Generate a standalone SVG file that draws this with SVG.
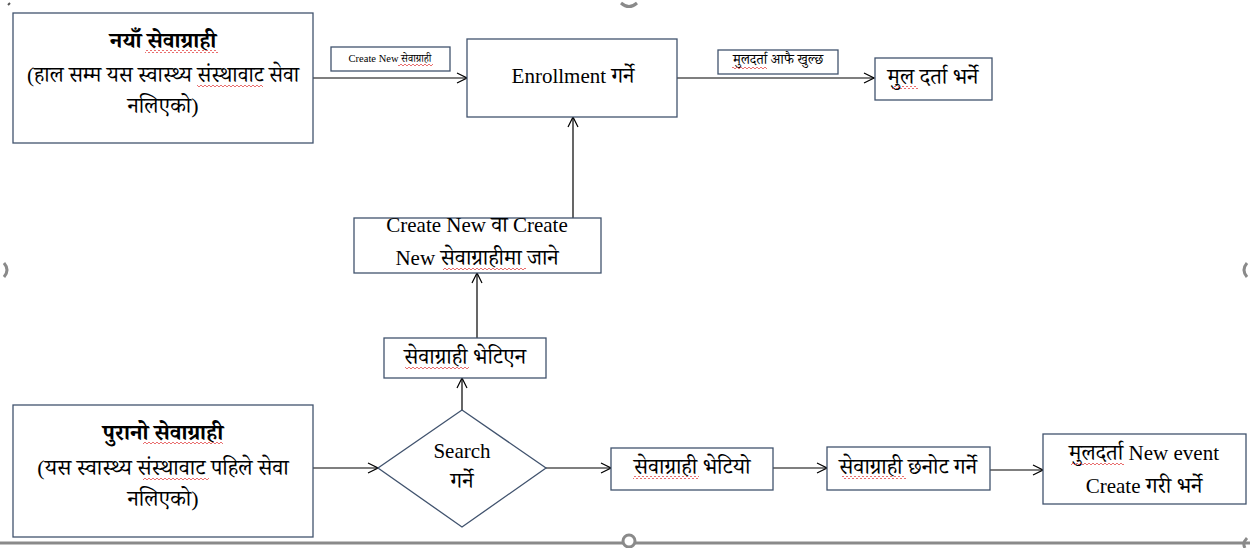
<svg xmlns="http://www.w3.org/2000/svg" width="1250" height="548" viewBox="0 0 1250 548">
<style>
.box{fill:#fff;stroke:#41536e;stroke-width:1.3}
.ln{fill:none;stroke:#000;stroke-width:1.2}
.t{font-family:"Liberation Serif","Noto Serif Devanagari","Noto Sans Devanagari","Lohit Devanagari",serif;fill:#000;text-anchor:middle}
.big{font-size:22px}
.lat{font-size:21px}
.b{font-weight:bold}
.sm{font-size:10.5px}
.md{font-size:14px}
.h{fill:none;stroke:#8a8a8a;stroke-width:3}
.w{fill:url(#wave)}
</style>
<defs>
<marker id="ah" markerWidth="12" markerHeight="12" refX="11" refY="6" orient="auto" markerUnits="userSpaceOnUse">
<path d="M1,1 L11,6 L1,11" fill="none" stroke="#000" stroke-width="1.2"/>
</marker>
<pattern id="wave" width="4" height="3" patternUnits="userSpaceOnUse">
<path d="M0,2 Q1,0 2,2 T4,2" fill="none" stroke="#e03030" stroke-width="0.7"/>
</pattern>
</defs>
<rect width="1250" height="548" fill="#fff"/>
<g id="handles">
<line x1="0" y1="543" x2="1250" y2="543" class="h"/>
<circle cx="629" cy="541" r="6" fill="#fff" stroke="#8a8a8a" stroke-width="3"/>
<path d="M621,3 Q629,10 637,3" class="h"/>
<path d="M4,263 Q10,270 4,277" class="h"/>
<path d="M1247,263 Q1241,270 1247,277" class="h"/>
<path d="M1245,548 Q1242,543 1247,538" class="h"/>
<path d="M8,5 L10,3" stroke="#555" stroke-width="2"/>
</g>
<g id="connectors">
<line x1="313" y1="78" x2="467" y2="78" class="ln" marker-end="url(#ah)"/>
<line x1="677" y1="78" x2="874" y2="78" class="ln" marker-end="url(#ah)"/>
<line x1="573" y1="218" x2="573" y2="117" class="ln" marker-end="url(#ah)"/>
<line x1="477" y1="338" x2="477" y2="273" class="ln" marker-end="url(#ah)"/>
<line x1="462" y1="410" x2="462" y2="378" class="ln" marker-end="url(#ah)"/>
<line x1="313" y1="468" x2="378" y2="468" class="ln" marker-end="url(#ah)"/>
<line x1="546" y1="468" x2="611" y2="468" class="ln" marker-end="url(#ah)"/>
<line x1="773" y1="468" x2="827" y2="468" class="ln" marker-end="url(#ah)"/>
<line x1="990" y1="470" x2="1043" y2="470" class="ln" marker-end="url(#ah)"/>
</g>
<g id="new-client">
<rect x="13" y="13" width="300" height="130" class="box"/>
<text x="163" y="48" class="t big b" style="font-size:22.5px">नयाँ सेवाग्राही</text>
<text x="163" y="82" class="t big" style="font-size:21.5px">(हाल सम्म यस स्वास्थ्य संस्थावाट सेवा</text>
<text x="163" y="113" class="t big">नलिएको)</text>
<rect x="145" y="50" width="73" height="3" class="w"/>
<rect x="197" y="84" width="66" height="3" class="w"/>
</g>
<g id="label-create-new">
<rect x="331" y="47" width="119" height="24" class="box"/>
<text x="390" y="62" class="t sm">Create New सेवाग्राही</text>
<rect x="398" y="63" width="35" height="3" class="w"/>
</g>
<g id="enrollment">
<rect x="467" y="39" width="210" height="78" class="box"/>
<text x="573" y="83" class="t big"><tspan class="lat">Enrollment</tspan> गर्ने</text>
</g>
<g id="label-auto">
<rect x="718" y="50" width="120" height="24" class="box"/>
<text x="778" y="64" class="t md">मुलदर्ता आफै खुल्छ</text>
<rect x="732" y="66" width="35" height="3" class="w"/>
</g>
<g id="mul-darta">
<rect x="875" y="58" width="117" height="42" class="box"/>
<text x="933" y="84" class="t big">मुल दर्ता भर्ने</text>
<rect x="892" y="86" width="26" height="3" class="w"/>
</g>
<g id="create-new">
<rect x="354" y="218" width="247" height="55" class="box"/>
<text x="477" y="232" class="t lat">Create New <tspan class="big">वा</tspan> Create</text>
<text x="477" y="265" class="t big"><tspan class="lat">New</tspan> सेवाग्राहीमा जाने</text>
<rect x="443" y="267" width="83" height="3" class="w"/>
</g>
<g id="not-found">
<rect x="384" y="338" width="162" height="40" class="box"/>
<text x="465" y="364" class="t big">सेवाग्राही भेटिएन</text>
<rect x="405" y="366" width="64" height="3" class="w"/>
</g>
<g id="old-client">
<rect x="13" y="405" width="300" height="132" class="box"/>
<text x="163" y="440" class="t big b" style="font-size:22.5px">पुरानो सेवाग्राही</text>
<text x="163" y="475" class="t big">(यस स्वास्थ्य संस्थावाट पहिले सेवा</text>
<text x="163" y="506" class="t big">नलिएको)</text>
<rect x="143" y="442" width="80" height="3" class="w"/>
<rect x="143" y="477" width="66" height="3" class="w"/>
</g>
<g id="search">
<polygon points="462,410 546,468 462,527 378,468" class="box"/>
<text x="462" y="458" class="t lat">Search</text>
<text x="462" y="488" class="t big">गर्ने</text>
</g>
<g id="found">
<rect x="611" y="448" width="162" height="42" class="box"/>
<text x="692" y="474" class="t big">सेवाग्राही भेटियो</text>
<rect x="633" y="476" width="66" height="3" class="w"/>
</g>
<g id="select">
<rect x="827" y="447" width="163" height="43" class="box"/>
<text x="908" y="474" class="t big">सेवाग्राही छनोट गर्ने</text>
<rect x="842" y="476" width="64" height="3" class="w"/>
</g>
<g id="new-event">
<rect x="1043" y="434" width="203" height="70" class="box"/>
<text x="1144" y="460" class="t big">मुलदर्ता <tspan class="lat">New event</tspan></text>
<text x="1144" y="493" class="t big"><tspan class="lat">Create</tspan> गरी भर्ने</text>
<rect x="1071" y="462" width="53" height="3" class="w"/>
</g>
</svg>
